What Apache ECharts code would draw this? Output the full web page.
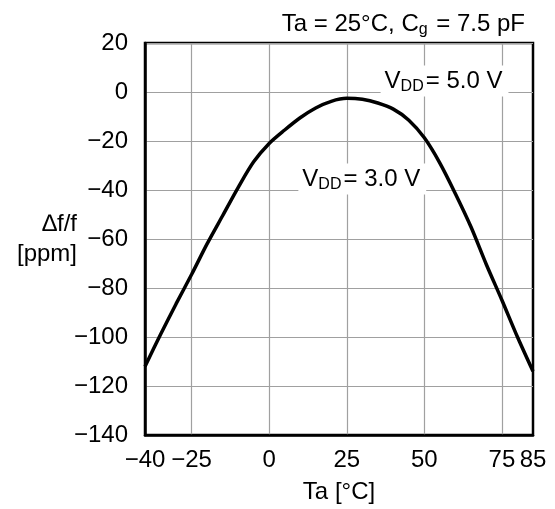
<!DOCTYPE html>
<html>
<head>
<meta charset="utf-8">
<script src="https://cdn.jsdelivr.net/npm/echarts@6/dist/echarts.min.js"></script>
<style>
  html, body { margin: 0; padding: 0; background: #fff; }
  #chart { width: 555px; height: 509px; }
</style>
</head>
<body>
<div id="chart"></div>
<script>
// temperature [°C] vs frequency deviation [ppm]
var temps = [-40, -35, -30, -25, -20, -15, -10, -5, 0, 5, 10, 15, 20, 25, 30, 35, 40, 45, 50, 55, 60, 65, 70, 75, 80, 85];
var ppm = [-112, -99, -86.5, -74.5, -62, -50.5, -39, -28.5, -21, -15.5, -10.5, -6.5, -3.8, -2.6, -3, -4.5, -7, -11.5, -18.7, -29, -41.5, -55, -70.5, -85, -100, -114];
var xTicks = [-40, -25, 0, 25, 50, 75, 85];
var xGrid = [-25, 0, 25, 50, 75];

var font = 'Liberation Sans, Arial, sans-serif';
var minus = function (v) { return String(v).replace('-', '\u2212'); };

var chart = echarts.init(document.getElementById('chart'));

var data = [];
for (var i = 0; i < temps.length; i++) {
  data.push([temps[i], ppm[i]]);
}

var labelRich = {
  m: { fontSize: 24, fontFamily: font, fontWeight: 'normal', color: '#000' },
  s: { fontSize: 16, fontFamily: font, fontWeight: 'normal', color: '#000', padding: [11, 2, 0, 0] }
};

var option = {
  backgroundColor: '#fff',
  animation: false,
  title: {
    text: '{m|Ta = 25°C, C}{s|g}{m| = 7.5 pF}',
    right: 25,
    top: 6,
    textStyle: { fontWeight: 'normal', rich: labelRich }
  },
  grid: {
    left: 145, right: 22, top: 43, bottom: 68,
    show: true,
    borderColor: '#000',
    borderWidth: 2.5
  },
  xAxis: {
    type: 'value',
    min: -40,
    max: 85,
    name: 'Ta [°C]',
    nameLocation: 'middle',
    nameGap: 45,
    nameTextStyle: { fontSize: 24, fontFamily: font, color: '#000' },
    axisLine: { onZero: false, lineStyle: { color: '#000', width: 2.5 } },
    axisTick: { show: false, customValues: xGrid },
    axisLabel: {
      customValues: xTicks,
      fontSize: 24, fontFamily: font, color: '#000', margin: 13,
      formatter: minus
    },
    splitLine: { show: true, lineStyle: { color: '#a0a0a0', width: 1.2 } }
  },
  yAxis: {
    type: 'value',
    min: -140,
    max: 20,
    interval: 20,
    name: '\u2206f/f\n[ppm]',
    nameLocation: 'middle',
    nameRotate: 0,
    nameGap: 68,
    nameMoveOverlap: false,
    nameTextStyle: { fontSize: 24, fontFamily: font, color: '#000', align: 'right', lineHeight: 30 },
    axisLine: { onZero: false, lineStyle: { color: '#000', width: 2.5 } },
    axisTick: { show: false },
    axisLabel: {
      fontSize: 24, fontFamily: font, color: '#000', margin: 17,
      formatter: minus
    },
    splitLine: { show: true, lineStyle: { color: '#a0a0a0', width: 1.2 } }
  },
  series: [{
    type: 'line',
    data: data,
    smooth: 0.3,
    symbol: 'none',
    lineStyle: { color: '#000', width: 3.5 },
    markPoint: {
      symbol: 'rect',
      symbolSize: 0,
      silent: true,
      label: {
        show: true,
        position: 'inside',
        backgroundColor: '#fff',
        padding: [2, 6, 2, 4],
        rich: labelRich
      },
      data: [
        { coord: [56.5, 4.5], label: { formatter: '{m|V}{s|DD}{m|= 5.0 V}' } },
        { coord: [30, -35.5], label: { formatter: '{m|V}{s|DD}{m|= 3.0 V}' } }
      ]
    }
  }]
};

chart.setOption(option);
</script>
</body>
</html>
